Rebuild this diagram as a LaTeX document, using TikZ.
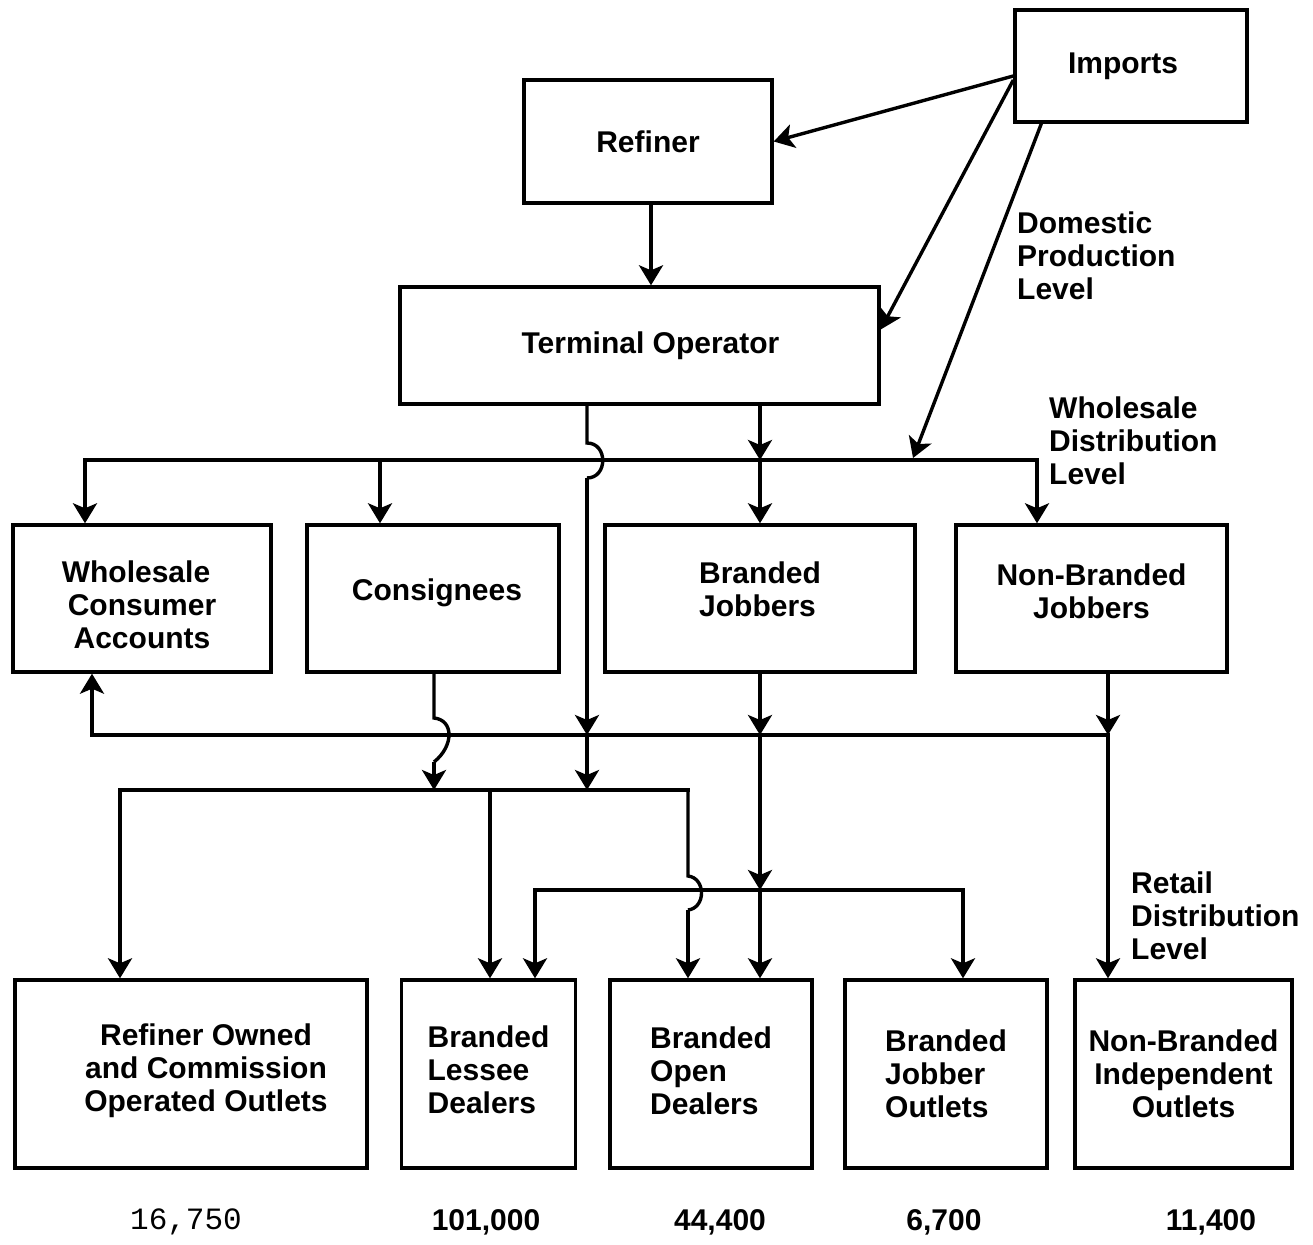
\documentclass[tikz,border=0pt]{standalone}
\usepackage{fontspec}
\setmainfont{Liberation Sans}
\newfontfamily\typewriterfont{Liberation Mono}
\usetikzlibrary{arrows.meta,calc}
\begin{document}
\begin{tikzpicture}[x=1pt,y=-1pt,
  every node/.style={font=\bfseries\fontsize{30}{33}\selectfont},
  box/.style={draw,line width=3.4pt,inner sep=0pt,align=center},
  wire/.style={line width=3.4pt},
  bus/.style={line width=3.4pt,line cap=rect},
  arr/.style={line width=3.4pt,-{Stealth[length=20pt,width=24pt,inset=5pt]}},
  lvl/.style={anchor=west,align=left,inner sep=0pt},
  num/.style={inner sep=0pt}]
\useasboundingbox (0,0) rectangle (1313,1244);

% boxes
\node[box,minimum width=232pt,minimum height=112pt] (imp) at (1131,66) {Imports\hspace*{16pt}\\[-27pt]};
\node[box,minimum width=248pt,minimum height=123pt] (ref) at (648,141.5) {Refiner};
\node[box,minimum width=479pt,minimum height=117pt] (term) at (639.5,345.5) {\hspace*{22pt}Terminal Operator};

\node[box,minimum width=258pt,minimum height=147pt] (wca) at (142,598.5) {Wholesale\hspace*{12pt}\\Consumer\hspace*{12pt}\\Accounts\hspace*{12pt}\\[-45pt]};
\node[box,minimum width=252pt,minimum height=147pt] (con) at (433,598.5) {\hspace*{8pt}Consignees\\[-16pt]};
\node[box,align=left,minimum width=310pt,minimum height=147pt] (bj) at (760,598.5) {Branded\\Jobbers\\[-15pt]};
\node[box,minimum width=271pt,minimum height=147pt] (nbj) at (1091.5,598.5) {Non-Branded\\Jobbers\\[-18pt]};

\node[box,minimum width=352pt,minimum height=188pt] (roo) at (191,1074) {\hspace*{30pt}Refiner Owned\\\hspace*{30pt}and Commission\\\hspace*{30pt}Operated Outlets\\[-21pt]};
\node[box,align=left,minimum width=174pt,minimum height=188pt] (bld) at (488.5,1074) {Branded\\Lessee\\Dealers\\[-25pt]};
\node[box,align=left,minimum width=202pt,minimum height=188pt] (bod) at (711,1074) {Branded\\Open\\Dealers\\[-27pt]};
\node[box,align=left,minimum width=202pt,minimum height=188pt] (bjo) at (946,1074) {Branded\\Jobber\\Outlets};
\node[box,minimum width=217pt,minimum height=188pt] (nbio) at (1183.5,1074) {Non-Branded\\Independent\\Outlets};

% level labels
\node[lvl] (dpl) at (1017,256) {Domestic\\Production\\Level};
\node[lvl] (wdl) at (1049,441) {Wholesale\\Distribution\\Level};
\node[lvl] (rdl) at (1131,916) {Retail\\Distribution\\Level};

% numbers
\node[num,font=\typewriterfont\fontsize{31}{33}\selectfont] (n1) at (186,1222) {16,750};
\node[num] (n2) at (486,1222) {101,000};
\node[num] (n3) at (720,1222) {44,400};
\node[num] (n4) at (944,1222) {6,700};
\node[num] (n5) at (1211,1222) {11,400};

% imports and refiner
\draw[arr] ($(imp.west)+(0,10)$) -- (ref.east);
\draw[arr] ($(imp.west)+(0,14)$) -- ($(term.east)+(0,-16)$);
\coordinate (wb) at (913,458);
\draw[arr] ($(imp.south west)+(28,0)$) -- (wb);
\draw[arr] ($(ref.south)+(3,0)$) -- ($(ref.south |- term.north)+(3,0)$);

% wholesale bus
\coordinate (wL) at (85,460);
\coordinate (wC) at (380,460);
\coordinate (wJ) at (760,460);
\coordinate (wR) at (1037,460);
\draw[bus] (wL) -- (wR);
\draw[arr] (wL) -- (wL |- wca.north);
\draw[arr] (wC) -- (wC |- con.north);
\draw[arr] (term.south -| wJ) -- (wJ);
\draw[arr] (wJ) -- (wJ |- bj.north);
\draw[arr] (wR) -- (wR |- nbj.north);

% terminal operator direct line with jump
\coordinate (tA) at (587,443);
\coordinate (tB) at (587,478);
\coordinate (rT) at (587,735);
\coordinate (b2T) at (587,790);
\draw[wire] (term.south -| tA) -- (tA) .. controls (608,443) and (608,478) .. (tB);
\draw[arr] (tB) -- (rT);
\draw[arr] (rT) -- (b2T);

% retail feed bus
\coordinate (rL) at (92,735);
\coordinate (rJ) at (760,735);
\coordinate (rR) at (1108,735);
\draw[bus] (rL) -- (rR);
\draw[arr] (rL) -- (rL |- wca.south);
\draw[arr] (nbj.south -| rR) -- (rR);
\draw[arr] (rR) -- (rR |- nbio.north);
\draw[arr] (bj.south -| rJ) -- (rJ);

% consignees with jump
\coordinate (cA) at (434,718);
\coordinate (cB) at (434,762);
\coordinate (b2C) at (434,790);
\draw[wire] (con.south -| cA) -- (cA) .. controls (454,720) and (454,746) .. (cB);
\draw[arr] (cB) -- (b2C);

% second bus
\coordinate (b2L) at (120,790);
\coordinate (b2M) at (490,790);
\coordinate (b2R) at (688,790);
\draw[bus] (b2L) -- (b2R);
\draw[arr] (b2L) -- (b2L |- roo.north);
\draw[arr] (b2M) -- (b2M |- bld.north);
\coordinate (jA) at (688,876);
\coordinate (jB) at (688,910);
\draw[wire] (b2R) -- (jA) .. controls (706,878) and (706,908) .. (jB);
\draw[arr] (jB) -- (jB |- bod.north);

% third bus
\coordinate (b3L) at (535,890);
\coordinate (b3J) at (760,890);
\coordinate (b3R) at (963,890);
\draw[bus] (b3L) -- (b3R);
\draw[arr] (rJ) -- (b3J);
\draw[arr] (b3J) -- (b3J |- bod.north);
\draw[arr] (b3L) -- (b3L |- bld.north);
\draw[arr] (b3R) -- (b3R |- bjo.north);
\end{tikzpicture}
\end{document}
